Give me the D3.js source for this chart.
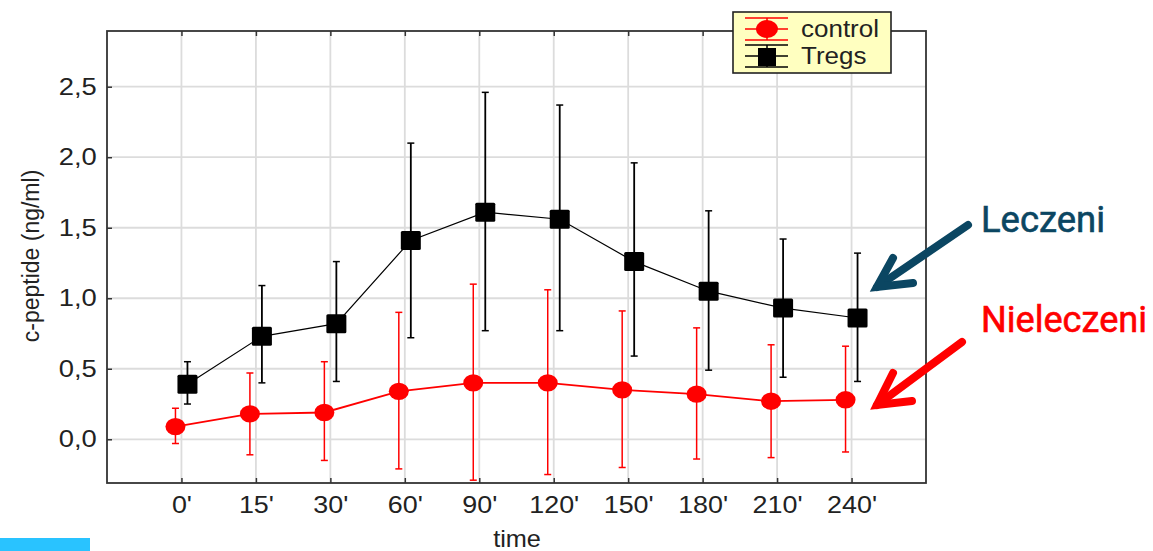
<!DOCTYPE html>
<html>
<head>
<meta charset="utf-8">
<script src="https://cdn.jsdelivr.net/npm/d3@7"></script>
<style>
    body { margin: 0; background: #fff; }
    .tick text { font-family: "Liberation Sans", Arial, sans-serif; font-size: 24px; fill: #222; }
</style>
</head>
<body>
<div id="Chart_1"></div>
<script>

let times = ["0'", "15'", "30'", "60'", "90'", "120'", "150'", "180'", "210'", "240'"];
let yTicks = [0, 0.5, 1.0, 1.5, 2.0, 2.5];

let controlMean = [0.09, 0.18, 0.19, 0.34, 0.40, 0.40, 0.35, 0.32, 0.27, 0.28];
let controlHigh = [0.22, 0.47, 0.55, 0.90, 1.10, 1.06, 0.91, 0.79, 0.67, 0.66];
let controlLow = [-0.03, -0.11, -0.15, -0.21, -0.29, -0.25, -0.20, -0.14, -0.13, -0.09];

let tregsMean = [0.39, 0.73, 0.82, 1.41, 1.61, 1.56, 1.26, 1.05, 0.93, 0.86];
let tregsHigh = [0.55, 1.09, 1.26, 2.10, 2.46, 2.37, 1.96, 1.62, 1.42, 1.32];
let tregsLow = [0.25, 0.40, 0.41, 0.72, 0.77, 0.77, 0.59, 0.49, 0.44, 0.41];

draw_chart();

function draw_chart() {
    let width = 1153, height = 551;
    let left = 107, right = 926, top = 31, bottom = 483;

    let svg = d3.select("#Chart_1")
        .append("svg")
        .attr("width", width)
        .attr("height", height)
        .style("display", "block");

    svg.append("rect")
        .attr("width", width)
        .attr("height", height)
        .attr("fill", "#fff");

    let xScale = d3.scalePoint()
        .domain(times)
        .range([left, right])
        .padding(1);

    let yScale = d3.scaleLinear()
        .domain([-0.31, 2.895])
        .range([bottom, top]);

    let comma = (d) => d3.format(".1f")(d).replace(".", ",");

    // grid
    svg.append("g")
        .selectAll("line")
        .data(times)
        .enter()
        .append("line")
        .attr("x1", (d) => xScale(d))
        .attr("x2", (d) => xScale(d))
        .attr("y1", top)
        .attr("y2", bottom)
        .attr("stroke", "#dcdcdc")
        .attr("stroke-width", 1.8);

    svg.append("g")
        .selectAll("line")
        .data(yTicks)
        .enter()
        .append("line")
        .attr("x1", left)
        .attr("x2", right)
        .attr("y1", (d) => yScale(d))
        .attr("y2", (d) => yScale(d))
        .attr("stroke", "#dcdcdc")
        .attr("stroke-width", 1.8);

    let xAxis = d3.axisBottom(xScale)
        .tickSizeInner(-5)
        .tickSizeOuter(0)
        .tickPadding(13);

    let topAxis = d3.axisTop(xScale)
        .tickSizeInner(-5)
        .tickSizeOuter(0)
        .tickFormat("");

    let yAxis = d3.axisLeft(yScale)
        .tickValues(yTicks)
        .tickFormat(comma)
        .tickSizeInner(-5)
        .tickSizeOuter(0)
        .tickPadding(9);

    let gx = svg.append("g")
        .attr("transform", "translate(0," + bottom + ")")
        .call(xAxis);
    let gt = svg.append("g")
        .attr("transform", "translate(0," + top + ")")
        .call(topAxis);
    let gy = svg.append("g")
        .attr("transform", "translate(" + left + ",0)")
        .call(yAxis);

    [gx, gt, gy].forEach((g) => {
        g.select(".domain").remove();
        g.selectAll(".tick line").attr("stroke", "#333").attr("stroke-width", 1.5);
    });
    gx.selectAll(".tick text").attr("transform", "scale(1.12,1)");
    gy.selectAll(".tick text").attr("transform", "scale(1.14,1)");

    // frame
    svg.append("rect")
        .attr("x", left)
        .attr("y", top)
        .attr("width", right - left)
        .attr("height", bottom - top)
        .attr("fill", "none")
        .attr("stroke", "#333")
        .attr("stroke-width", 1.8);

    let series = [
        {name: "control", mean: controlMean, hi: controlHigh, lo: controlLow, color: "#ff0000", shift: -6, lw: 1.8, ew: 1.5},
        {name: "Tregs", mean: tregsMean, hi: tregsHigh, lo: tregsLow, color: "#000000", shift: 6, lw: 1.2, ew: 1.8}
    ];

    series.forEach((s) => {
        let px = (i) => xScale(times[i]) + s.shift;
        let g = svg.append("g");

        g.selectAll(".err")
            .data(s.mean)
            .enter()
            .append("line")
            .attr("x1", (d, i) => px(i))
            .attr("x2", (d, i) => px(i))
            .attr("y1", (d, i) => yScale(s.hi[i]))
            .attr("y2", (d, i) => yScale(s.lo[i]))
            .attr("stroke", s.color)
            .attr("stroke-width", s.ew);

        [s.hi, s.lo].forEach((arr) => {
            g.selectAll(".cap")
                .data(arr)
                .enter()
                .append("line")
                .attr("x1", (d, i) => px(i) - 3.5)
                .attr("x2", (d, i) => px(i) + 3.5)
                .attr("y1", (d) => yScale(d))
                .attr("y2", (d) => yScale(d))
                .attr("stroke", s.color)
                .attr("stroke-width", 1.5);
        });

        g.append("path")
            .datum(s.mean)
            .attr("fill", "none")
            .attr("stroke", s.color)
            .attr("stroke-width", s.lw)
            .attr("d", d3.line().x((d, i) => px(i)).y((d) => yScale(d)));

        if (s.name == "control") {
            g.selectAll("ellipse")
                .data(s.mean)
                .enter()
                .append("ellipse")
                .attr("cx", (d, i) => px(i))
                .attr("cy", (d) => yScale(d))
                .attr("rx", 10)
                .attr("ry", 8.7)
                .attr("fill", s.color);
        } else {
            g.selectAll("rect")
                .data(s.mean)
                .enter()
                .append("rect")
                .attr("x", (d, i) => px(i) - 10)
                .attr("y", (d) => yScale(d) - 9.5)
                .attr("width", 20)
                .attr("height", 19)
                .attr("rx", 1.5)
                .attr("fill", s.color);
        }
    });

    // axis titles
    svg.append("text")
        .text("c-peptide (ng/ml)")
        .attr("transform", "translate(39,256) rotate(-90)")
        .attr("text-anchor", "middle")
        .style("font-family", "Liberation Sans, Arial, sans-serif")
        .style("font-size", "23px")
        .attr("fill", "#222");

    svg.append("text")
        .text("time")
        .attr("transform", "translate(517,547) scale(1.1,1)")
        .attr("text-anchor", "middle")
        .style("font-family", "Liberation Sans, Arial, sans-serif")
        .style("font-size", "23px")
        .attr("fill", "#222");

    // legend
    let legend = svg.append("g");
    legend.append("rect")
        .attr("x", 733)
        .attr("y", 12)
        .attr("width", 158)
        .attr("height", 61)
        .attr("fill", "#ffffc0")
        .attr("stroke", "#222")
        .attr("stroke-width", 1.6);

    let legRows = [{y: 29, s: series[0]}, {y: 56, s: series[1]}];
    legRows.forEach((r) => {
        [-11, 0, 11].forEach((dy) => {
            legend.append("line")
                .attr("x1", 745).attr("x2", 788)
                .attr("y1", r.y + dy).attr("y2", r.y + dy)
                .attr("stroke", r.s.color)
                .attr("stroke-width", 1.5);
        });
        legend.append("line")
            .attr("x1", 767).attr("x2", 767)
            .attr("y1", r.y - 11).attr("y2", r.y + 11)
            .attr("stroke", r.s.color)
            .attr("stroke-width", 1.5);
        if (r.s.name == "control") {
            legend.append("ellipse")
                .attr("cx", 767).attr("cy", r.y)
                .attr("rx", 11).attr("ry", 9)
                .attr("fill", r.s.color);
        } else {
            legend.append("rect")
                .attr("x", 758).attr("y", r.y - 8)
                .attr("width", 18).attr("height", 18)
                .attr("fill", r.s.color);
        }
        legend.append("text")
            .text(r.s.name)
            .attr("transform", "translate(801," + (r.y + 8) + ") scale(1.13,1)")
            .style("font-family", "Liberation Sans, Arial, sans-serif")
            .style("font-size", "23px")
            .attr("fill", "#222");
    });

    // annotations
    let notes = [
        {text: "Leczeni", color: "#0b4662", tx: 981, ty: 232, len: 124,
         shaft: [[968, 225], [877, 287]], head: [[893, 258], [877, 287], [913, 283]]},
        {text: "Nieleczeni", color: "#ff0000", tx: 981, ty: 332, len: 166,
         shaft: [[962, 342], [877, 405]], head: [[893, 373], [877, 405], [912, 401]]}
    ];
    notes.forEach((n) => {
        svg.append("text")
            .text(n.text)
            .attr("x", n.tx)
            .attr("y", n.ty)
            .attr("textLength", n.len)
            .attr("lengthAdjust", "spacingAndGlyphs")
            .style("font-family", "Roboto, sans-serif")
            .style("font-size", "36px")
            .attr("fill", n.color)
            .attr("stroke", n.color)
            .attr("stroke-width", 0.6);
        svg.append("path")
            .attr("d", d3.line()(n.shaft))
            .attr("stroke", n.color)
            .attr("stroke-width", 8)
            .attr("stroke-linecap", "round")
            .attr("fill", "none");
        svg.append("path")
            .attr("d", d3.line()(n.head))
            .attr("stroke", n.color)
            .attr("stroke-width", 8)
            .attr("stroke-linecap", "round")
            .attr("stroke-linejoin", "miter")
            .attr("fill", "none");
    });

    svg.append("rect")
        .attr("x", 0)
        .attr("y", 538)
        .attr("width", 90)
        .attr("height", 13)
        .attr("fill", "#29c3ff");
}
</script>
</body>
</html>
